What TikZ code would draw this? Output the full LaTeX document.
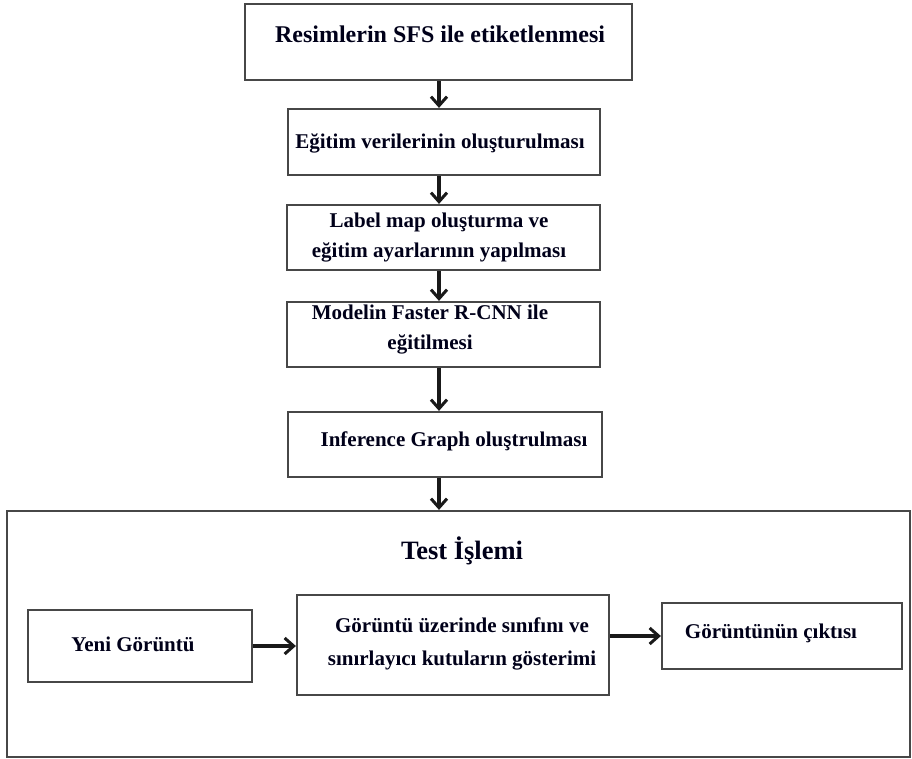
\documentclass[tikz,border=0pt]{standalone}
\usepackage{fontspec}
\setmainfont{Liberation Serif}
\usetikzlibrary{arrows.meta}
\begin{document}
\begin{tikzpicture}[x=1pt,y=-1pt,
  box/.style={draw=black!72,line width=2.2pt,inner sep=0pt,minimum width=#1},
  txt/.style={font=\fontsize{21}{30}\selectfont\bfseries,text=black!90!blue,align=center,inner sep=0pt},
  arr/.style={draw=black!90,line width=3.4pt,-{Straight Barb[length=9pt,width=16pt,line width=3pt]}}]
\useasboundingbox (0,0) rectangle (912,758);
% vertical pipeline
\node[box=387pt,minimum height=76pt] (b1) at (438.5,42) {};
\node[box=312pt,minimum height=66pt] (b2) at (444,142) {};
\node[box=313pt,minimum height=65pt] (b3) at (443.5,237.5) {};
\node[box=313pt,minimum height=65pt] (b4) at (443.5,334.5) {};
\node[box=314pt,minimum height=65pt] (b5) at (445,444.5) {};
% test stage frame
\node[box=903pt,minimum height=246pt] (outer) at (458.5,634) {};
\node[box=224pt,minimum height=72pt] (c1) at (140,646) {};
\node[box=312pt,minimum height=100pt] (c2) at (453,645) {};
\node[box=240pt,minimum height=66pt] (c3) at (782,636) {};
% labels
\node[txt,font=\fontsize{24}{30}\selectfont\bfseries] (t1) at (440,34) {Resimlerin SFS ile etiketlenmesi};
\node[txt] (t2) at (440,143) {Eğitim verilerinin oluşturulması};
\node[txt] (t3) at (439,238) {Label map oluşturma ve\\eğitim ayarlarının yapılması};
\node[txt] (t4) at (430,330) {Modelin Faster R-CNN ile\\eğitilmesi};
\node[txt] (t5) at (454,441) {Inference Graph oluştrulması};
\node[txt,font=\fontsize{26.5}{30}\selectfont\bfseries] (title) at (462,551) {Test İşlemi};
\node[txt] (t6) at (133,644) {Yeni Görüntü};
\node[txt,font=\fontsize{21}{33}\selectfont\bfseries] (t7) at (462,644) {Görüntü üzerinde sınıfını ve\\sınırlayıcı kutuların gösterimi};
\node[txt] (t8) at (771,633) {Görüntünün çıktısı};
% connectors
\coordinate (ax) at (439,0);
\draw[arr] (b1.south -| ax) -- (b2.north -| ax);
\draw[arr] (b2.south -| ax) -- (b3.north -| ax);
\draw[arr] (b3.south -| ax) -- (b4.north -| ax);
\draw[arr] (b4.south -| ax) -- (b5.north -| ax);
\draw[arr] (b5.south -| ax) -- (outer.north -| ax);
\draw[arr] (c1.east) -- (c1.east -| c2.west);
\draw[arr] (c2.east |- c3.west) -- (c3.west);
\end{tikzpicture}
\end{document}
